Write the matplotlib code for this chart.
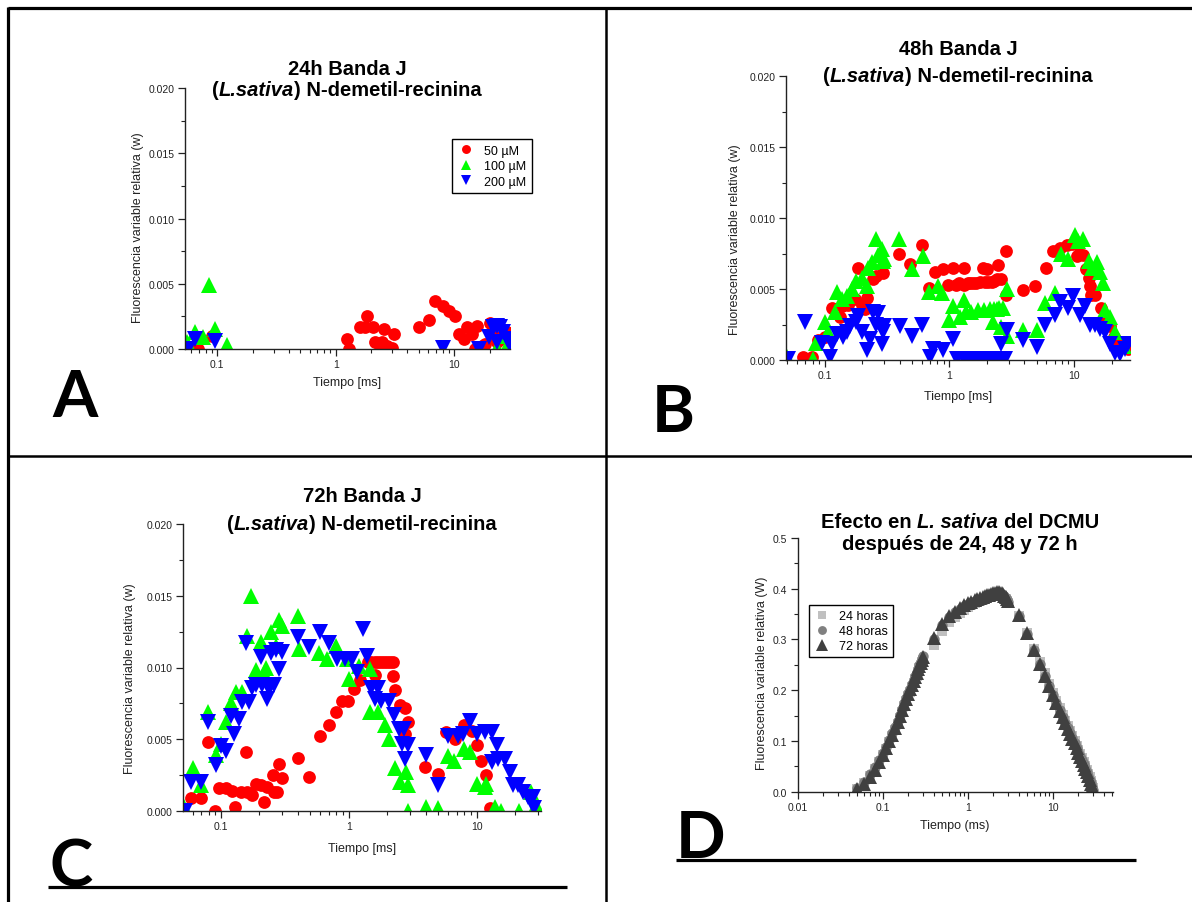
import matplotlib
matplotlib.use("Agg")
import matplotlib.pyplot as plt
import numpy as np
from matplotlib.ticker import LogLocator, NullFormatter, MultipleLocator, FormatStrFormatter
from matplotlib.transforms import IdentityTransform
from matplotlib.lines import Line2D

plt.rcParams['font.family'] = ['Liberation Sans', 'DejaVu Sans']

# ---------------- data (tiempo en ms, fluorescencia relativa) ----------------
# A: 24 h
a_red_t = [0.063, 0.069, 0.09, 1.24, 1.3, 1.6, 1.77, 1.83, 2.08, 2.13, 2.3, 2.46, 2.53,
           2.7, 2.97, 3.07, 5.0, 6.07, 6.9, 8.1, 9.1, 10.2, 10.9, 12.0, 12.8, 14.0,
           15.0, 15.5, 17.0, 18.2, 20.0, 21.5, 23.0, 25.0, 27.8]
a_red_w = [0.0, 0.0, 0.001, 0.00077, 0.0, 0.00166, 0.00166, 0.00256, 0.00166, 0.0005, 0.0004, 0.0005, 0.00153,
           0.00026, 0.0001, 0.00115, 0.00166, 0.0022, 0.0037, 0.0033, 0.0029, 0.0025, 0.00115, 0.00077, 0.00166, 0.00115,
           0.0, 0.0018, 0.00026, 0.0004, 0.002, 0.001, 0.0005, 0.00077, 0.0013]
a_green_t = [0.055, 0.065, 0.076, 0.085, 0.096, 0.12, 23.0, 27.0, 29.0]
a_green_w = [0.0005, 0.0013, 0.0009, 0.0049, 0.0015, 0.0003, 0.0001, 0.001, 0.0005]
a_blue_t = [0.057, 0.065, 0.096, 8.1, 16.0, 19.5, 21.0, 23.0, 23.0, 24.5, 26.0, 28.0, 29.5]
a_blue_w = [0.0, 0.0008, 0.0006, 0.0001, 0.0, 0.0009, 0.0017, 0.0018, 0.0005, 0.0017, 0.0013, 0.0008, 0.0003]

# B: 48 h
b_red_t = [0.0675, 0.079, 0.089, 0.1, 0.114,
           0.133, 0.137, 0.155, 0.175, 0.186,
           0.198, 0.21, 0.217, 0.246, 0.26,
           0.295, 0.398, 0.483, 0.6, 0.69,
           0.77, 0.89, 0.98, 1.07, 1.14,
           1.2, 1.3, 1.3, 1.4, 1.46,
           1.55, 1.65, 1.75, 1.87, 1.93,
           1.99, 2.05, 2.18, 2.3, 2.4,
           2.46, 2.6, 2.85, 2.85, 3.9,
           4.9, 6.0, 6.8, 7.7, 8.7,
           9.6, 10.5, 11.0, 11.9, 12.5,
           13.1, 13.4, 13.8, 14.6, 16.6,
           17.8, 19.5, 20.8, 22.7, 24.9,
           27.3]
b_red_w = [0.0002, 0.0002, 0.0014, 0.0016, 0.0037,
           0.003, 0.0038, 0.0039, 0.0043, 0.0065,
           0.0039, 0.0036, 0.0044, 0.0057, 0.0059,
           0.0061, 0.0075, 0.0068, 0.0081, 0.0051,
           0.0062, 0.0064, 0.0053, 0.0065, 0.0053,
           0.0054, 0.0065, 0.0053, 0.0054, 0.0054,
           0.0054, 0.0054, 0.0055, 0.0065, 0.0055,
           0.0064, 0.0055, 0.0055, 0.0056, 0.0057,
           0.0067, 0.0057, 0.0077, 0.0046, 0.0049,
           0.0052, 0.0065, 0.0077, 0.0079, 0.0081,
           0.0082, 0.0073, 0.0075, 0.0074, 0.0064,
           0.0058, 0.0052, 0.0046, 0.0046, 0.0037,
           0.0029, 0.0024, 0.0016, 0.0011, 0.0011,
           0.0008]
b_green_t = [0.0496, 0.081, 0.086, 0.1, 0.107,
             0.121, 0.125, 0.137, 0.15, 0.165,
             0.18, 0.198, 0.217, 0.224, 0.238,
             0.26, 0.27, 0.286, 0.295, 0.3,
             0.397, 0.5, 0.61, 0.69, 0.81,
             0.87, 1.0, 1.07, 1.22, 1.3,
             1.37, 1.5, 1.7, 1.9, 2.1,
             2.25, 2.3, 2.4, 2.5, 2.6,
             2.7, 2.9, 2.9, 3.9, 5.0,
             5.8, 7.0, 7.9, 8.9, 10.1,
             10.8, 11.9, 13.1, 13.9, 15.2,
             16.2, 17.2, 17.8, 19.5, 21.4,
             25.0]
b_green_w = [0.0002, 0.0001, 0.0012, 0.0027, 0.002,
             0.0034, 0.0048, 0.0043, 0.0045, 0.005,
             0.0056, 0.0058, 0.0052, 0.0065, 0.0069,
             0.0085, 0.0074, 0.0078, 0.007, 0.0071,
             0.0085, 0.0064, 0.0073, 0.0048, 0.0052,
             0.0047, 0.0028, 0.0038, 0.003, 0.0042,
             0.0034, 0.0034, 0.0035, 0.0035, 0.0036,
             0.0027, 0.0036, 0.0036, 0.0037, 0.0023,
             0.0037, 0.005, 0.0017, 0.0021, 0.0021,
             0.004, 0.0047, 0.0075, 0.0071, 0.0088,
             0.0084, 0.0085, 0.007, 0.0065, 0.0069,
             0.0062, 0.0054, 0.0035, 0.003, 0.002,
             0.001]
b_blue_t = [0.051, 0.069, 0.095, 0.11, 0.114,
            0.125, 0.141, 0.15, 0.16, 0.18,
            0.186, 0.198, 0.217, 0.23, 0.246,
            0.26, 0.27, 0.286, 0.295, 0.3,
            0.4, 0.5, 0.6, 0.7, 0.74,
            0.89, 1.07, 1.15, 1.3, 1.45,
            1.6, 1.8, 2.0, 2.2, 2.4,
            2.6, 2.6, 2.8, 2.9, 3.9,
            5.0, 5.8, 7.0, 7.7, 8.9,
            9.9, 11.2, 12.3, 13.4, 14.6,
            16.2, 17.8, 19.5, 21.4, 23.5,
            25.5, 27.3]
b_blue_w = [0.0001, 0.0027, 0.0012, 0.0002, 0.0011,
            0.0018, 0.0016, 0.002, 0.0024, 0.0027,
            0.0031, 0.002, 0.0007, 0.0015, 0.0034,
            0.0025, 0.0033, 0.0011, 0.002, 0.0024,
            0.0024, 0.0017, 0.0025, 0.0002, 0.0008,
            0.0007, 0.0015, 0.0001, 0.0001, 0.0001,
            0.0001, 0.0001, 0.0001, 0.0001, 0.0001,
            0.0001, 0.0011, 0.0001, 0.0021, 0.0014,
            0.0009, 0.0025, 0.0032, 0.0041, 0.0037,
            0.0045, 0.0032, 0.0038, 0.0025, 0.0025,
            0.0022, 0.002, 0.0011, 0.0005, 0.0004,
            0.0008, 0.0011]

# C: 72 h
c_red_t = [0.058, 0.07, 0.079, 0.089, 0.097,
           0.109, 0.123, 0.129, 0.143, 0.156,
           0.161, 0.176, 0.187, 0.205, 0.217,
           0.23, 0.253, 0.26, 0.276, 0.284,
           0.3, 0.4, 0.49, 0.6, 0.7,
           0.8, 0.88, 0.99, 1.09, 1.23,
           1.4, 1.5, 1.6, 1.6, 1.7,
           1.8, 1.9, 2.0, 2.1, 2.2,
           2.2, 2.3, 2.5, 2.75, 2.75,
           2.9, 3.96, 5.0, 5.8, 6.8,
           8.0, 9.2, 10.0, 10.9, 11.9,
           12.7]
c_red_w = [0.0009, 0.0009, 0.0048, 0.0, 0.0016,
           0.0016, 0.0014, 0.0003, 0.0013, 0.0041,
           0.0013, 0.0011, 0.0019, 0.0018, 0.0006,
           0.0017, 0.0025, 0.0013, 0.0013, 0.0033,
           0.0023, 0.0037, 0.0024, 0.0052, 0.006,
           0.0069, 0.0077, 0.0077, 0.0085, 0.0091,
           0.0104, 0.0104, 0.0104, 0.0095, 0.0104,
           0.0104, 0.0104, 0.0104, 0.0104, 0.0104,
           0.0094, 0.0084, 0.0074, 0.0072, 0.0054,
           0.0062, 0.0031, 0.0026, 0.0055, 0.005,
           0.006, 0.0056, 0.0046, 0.0035, 0.0025,
           0.0002]
c_green_t = [0.05, 0.06, 0.07, 0.079, 0.092,
             0.1, 0.109, 0.12, 0.131, 0.147,
             0.16, 0.171, 0.187, 0.205, 0.217,
             0.224, 0.245, 0.268, 0.284, 0.3,
             0.4, 0.41, 0.58, 0.68, 0.79,
             0.97, 1.0, 1.2, 1.47, 1.47,
             1.7, 1.93, 2.05, 2.3, 2.5,
             2.8, 2.9, 2.9, 4.0, 5.0,
             6.0, 6.7, 7.9, 8.9, 10.0,
             11.6, 11.9, 13.9, 15.6, 21.6,
             26.6, 29.0]
c_green_w = [0.0004, 0.003, 0.0018, 0.0069, 0.0039,
             0.0047, 0.0062, 0.0075, 0.0083, 0.0083,
             0.0122, 0.015, 0.0098, 0.0118, 0.0096,
             0.01, 0.0125, 0.0115, 0.0133, 0.0129,
             0.0136, 0.0113, 0.011, 0.0106, 0.0115,
             0.0106, 0.0092, 0.0101, 0.0099, 0.0069,
             0.0069, 0.006, 0.005, 0.003, 0.002,
             0.0027, 0.0018, 0.0, 0.0003, 0.0002,
             0.0038, 0.0035, 0.0043, 0.0041, 0.0019,
             0.0017, 0.0019, 0.0003, 0.0, 0.0,
             0.0013, 0.0004]
c_blue_t = [0.052, 0.058, 0.07, 0.079, 0.092,
            0.1, 0.109, 0.12, 0.127, 0.139,
            0.147, 0.156, 0.166, 0.176, 0.187,
            0.205, 0.211, 0.23, 0.238, 0.245,
            0.26, 0.268, 0.284, 0.3, 0.4,
            0.49, 0.6, 0.7, 0.81, 0.94,
            1.06, 1.16, 1.3, 1.39, 1.5,
            1.6, 1.7, 1.8, 2.05, 2.25,
            2.45, 2.6, 2.7, 2.75, 2.9,
            4.0, 5.0, 5.96, 7.2, 7.8,
            8.9, 10.0, 11.6, 13.1, 13.1,
            14.3, 14.6, 16.6, 18.2, 19.3,
            21.2, 23.2, 25.4, 27.6, 28.3]
c_blue_w = [0.0, 0.002, 0.002, 0.0062, 0.0032,
            0.0045, 0.0042, 0.0066, 0.0054, 0.0064,
            0.0076, 0.0117, 0.0076, 0.0086, 0.0088,
            0.0107, 0.0088, 0.0078, 0.0085, 0.011,
            0.0088, 0.0112, 0.0099, 0.0111, 0.0121,
            0.0114, 0.0125, 0.0117, 0.0106, 0.0106,
            0.0106, 0.0097, 0.0127, 0.0108, 0.0086,
            0.0078, 0.0086, 0.0077, 0.0077, 0.0067,
            0.0057, 0.0047, 0.0057, 0.0036, 0.0046,
            0.0039, 0.0018, 0.0052, 0.0052, 0.0054,
            0.0063, 0.0054, 0.0055, 0.0055, 0.0034,
            0.0046, 0.0036, 0.0036, 0.0027, 0.0018,
            0.0018, 0.0013, 0.001, 0.001, 0.0002]

# D: DCMU
d_t = [0.05, 0.06, 0.07, 0.08, 0.09, 0.10, 0.11, 0.12, 0.13, 0.14, 0.15, 0.16, 0.17,
       0.18, 0.19, 0.20, 0.21, 0.22, 0.23, 0.24, 0.25, 0.26, 0.27, 0.28, 0.29, 0.30,
       0.4, 0.5, 0.6, 0.7, 0.8, 0.9, 1.0,
       1.1, 1.2, 1.3, 1.4, 1.5, 1.6, 1.7, 1.8, 1.9, 2.0,
       2.1, 2.2, 2.3, 2.4, 2.5, 2.6, 2.7, 2.8, 2.9, 3.0,
       4, 5, 6, 7, 8, 9, 10, 11, 12, 13, 14, 15, 16, 17, 18, 19, 20,
       21, 22, 23, 24, 25, 26, 27, 28, 29, 30]
d_24h = [0.006, 0.018, 0.031, 0.045, 0.059, 0.072, 0.085, 0.097, 0.110, 0.122, 0.134, 0.146, 0.157,
         0.168, 0.178, 0.188, 0.197, 0.206, 0.214, 0.222, 0.229, 0.236, 0.243, 0.249, 0.255, 0.260,
         0.290, 0.316, 0.334, 0.345, 0.353, 0.359, 0.364,
         0.368, 0.371, 0.374, 0.376, 0.378, 0.380, 0.382, 0.384, 0.385, 0.386,
         0.387, 0.388, 0.388, 0.387, 0.386, 0.384, 0.382, 0.379, 0.376, 0.372,
         0.346, 0.313, 0.282, 0.256, 0.233, 0.213, 0.195, 0.179, 0.165, 0.152, 0.140, 0.129, 0.119,
         0.109, 0.100, 0.091, 0.082, 0.074, 0.066, 0.058, 0.050, 0.043, 0.035, 0.028, 0.021, 0.014, 0.007]
d_48h = [0.008, 0.020, 0.034, 0.048, 0.062, 0.076, 0.089, 0.102, 0.115, 0.128, 0.140, 0.152, 0.163,
         0.174, 0.184, 0.194, 0.203, 0.212, 0.220, 0.228, 0.235, 0.242, 0.249, 0.255, 0.261, 0.267,
         0.300, 0.328, 0.345, 0.354, 0.361, 0.366, 0.370,
         0.373, 0.376, 0.378, 0.380, 0.382, 0.384, 0.386, 0.388, 0.389, 0.390,
         0.391, 0.392, 0.392, 0.391, 0.390, 0.388, 0.385, 0.382, 0.378, 0.374,
         0.347, 0.311, 0.279, 0.252, 0.229, 0.209, 0.191, 0.175, 0.161, 0.148, 0.136, 0.125, 0.115,
         0.105, 0.096, 0.087, 0.078, 0.070, 0.062, 0.054, 0.046, 0.039, 0.031, 0.024, 0.017, 0.010, 0.004]
d_72h = [0.005, 0.016, 0.029, 0.043, 0.058, 0.072, 0.086, 0.099, 0.112, 0.125, 0.138, 0.150, 0.162,
         0.173, 0.183, 0.193, 0.202, 0.211, 0.219, 0.227, 0.234, 0.241, 0.248, 0.254, 0.260, 0.266,
         0.302, 0.330, 0.346, 0.355, 0.362, 0.367, 0.371,
         0.374, 0.377, 0.379, 0.381, 0.383, 0.385, 0.387, 0.388, 0.390, 0.391,
         0.392, 0.393, 0.393, 0.392, 0.391, 0.389, 0.386, 0.383, 0.379, 0.375,
         0.348, 0.312, 0.279, 0.252, 0.228, 0.208, 0.190, 0.174, 0.160, 0.147, 0.135, 0.124, 0.114,
         0.104, 0.095, 0.086, 0.077, 0.069, 0.061, 0.053, 0.045, 0.038, 0.030, 0.023, 0.016, 0.009, 0.003]

conc_labels = ["50 µM", "100 µM", "200 µM"]
hour_labels = ["24 horas", "48 horas", "72 horas"]

# ---------------- figure ----------------
W, H = 1192, 903
fig = plt.figure(figsize=(W / 100, H / 100), dpi=100)
renderer = fig.canvas.get_renderer()


def box(l, r, b, t):
    return [l / W, 1 - b / H, (r - l) / W, (b - t) / H]


def ftext(x, y, s, **kw):
    return fig.text(x / W, 1 - y / H, s, **kw)


def fline(x0, y0, x1, y1, lw):
    fig.add_artist(Line2D([x0 / W, x1 / W], [1 - y0 / H, 1 - y1 / H],
                          transform=fig.transFigure, color='black', lw=lw,
                          solid_capstyle='butt'))


def rich_line(xc, y, parts, size=14.5):
    # one title line with mixed normal / italic pieces, centred on xc (pixels)
    p1 = fig.text(0, 0, 'n n', fontsize=size, fontweight='bold')
    p2 = fig.text(0, 0, 'nn', fontsize=size, fontweight='bold')
    sp = p1.get_window_extent(renderer).width - p2.get_window_extent(renderer).width
    p1.remove()
    p2.remove()
    items = []
    for s, st in parts:
        lead = len(s) - len(s.lstrip(' '))
        trail = len(s) - len(s.rstrip(' '))
        t = fig.text(0, 0, s.strip(' '), fontsize=size, fontweight='bold', fontstyle=st,
                     transform=IdentityTransform(), ha='left', va='baseline')
        w = t.get_window_extent(renderer).width
        items.append((t, lead * sp, w, trail * sp))
    total = sum(a + w + c for _, a, w, c in items)
    x = xc - total / 2
    for t, a, w, c in items:
        x += a
        t.set_position((x, H - y))
        x += w + c


def make_axes(rect, xlim, ylim, ymajor, yfmt, xticks, xlabels):
    ax = fig.add_axes(box(*rect))
    ax.set_xscale('log')
    ax.set_xlim(xlim)
    ax.set_ylim(ylim)
    for s in ['top', 'right']:
        ax.spines[s].set_visible(False)
    for s in ['left', 'bottom']:
        ax.spines[s].set_linewidth(1.0)
        ax.spines[s].set_color('#222222')
    ax.set_xticks(xticks)
    ax.set_xticklabels(xlabels)
    ax.xaxis.set_minor_locator(LogLocator(base=10, subs=np.arange(2, 10)))
    ax.xaxis.set_minor_formatter(NullFormatter())
    ax.yaxis.set_major_locator(MultipleLocator(ymajor))
    ax.yaxis.set_minor_locator(MultipleLocator(ymajor / 2))
    ax.yaxis.set_major_formatter(FormatStrFormatter(yfmt))
    ax.tick_params(which='major', direction='out', length=5, width=0.9,
                   labelsize=7.5, colors='#222222', pad=2.5)
    ax.tick_params(which='minor', direction='out', length=3, width=0.8, colors='#222222')
    ax.patch.set_alpha(0)
    return ax


def scatter3(ax, red, green, blue):
    ax.plot(red[0], red[1], 'o', color='#FF0000', ms=9.2, mew=0, ls='none', label=conc_labels[0])
    ax.plot(green[0], green[1], '^', color='#00FF00', ms=11.3, mew=0, ls='none', label=conc_labels[1])
    ax.plot(blue[0], blue[1], 'v', color='#0000FF', ms=11.3, mew=0, ls='none', label=conc_labels[2])


ylab = "Fluorescencia variable relativa (w)"
xt = [0.1, 1, 10]
xtl = ["0.1", "1", "10"]

# --- A ---
axA = make_axes((185, 510, 350, 89.3), (0.0534, 29.5), (0, 0.020), 0.005, '%.3f', xt, xtl)
scatter3(axA, (a_red_t, a_red_w), (a_green_t, a_green_w), (a_blue_t, a_blue_w))
leg = axA.legend(loc='upper left', bbox_to_anchor=(452 / W, 1 - 140 / H),
                 bbox_transform=fig.transFigure, fontsize=9, frameon=True, fancybox=False,
                 edgecolor='black', framealpha=1, borderaxespad=0, borderpad=0.45,
                 handlelength=1.3, handletextpad=0.8, labelspacing=0.28, markerscale=0.7)
leg.get_frame().set_linewidth(1.0)
rich_line(347, 75, [("24h Banda J", 'normal')])
rich_line(347, 96, [("(", 'normal'), ("L.sativa", 'italic'), (") N-demetil-recinina", 'normal')])
ftext(347, 383, "Tiempo [ms]", fontsize=9, ha='center', va='center', color='#222222')
ftext(138, 228, ylab, fontsize=9, ha='center', va='center', rotation=90, color='#222222')

# --- B ---
axB = make_axes((786, 1130, 361, 77.3), (0.049, 28.1), (0, 0.020), 0.005, '%.3f', xt, xtl)
scatter3(axB, (b_red_t, b_red_w), (b_green_t, b_green_w), (b_blue_t, b_blue_w))
rich_line(958, 55, [("48h Banda J", 'normal')])
rich_line(958, 82, [("(", 'normal'), ("L.sativa", 'italic'), (") N-demetil-recinina", 'normal')])
ftext(958, 397, "Tiempo [ms]", fontsize=9, ha='center', va='center', color='#222222')
ftext(735, 240, ylab, fontsize=9, ha='center', va='center', rotation=90, color='#222222')

# --- C ---
axC = make_axes((183.3, 540.7, 812, 525), (0.0507, 31.7), (0, 0.020), 0.005, '%.3f', xt, xtl)
scatter3(axC, (c_red_t, c_red_w), (c_green_t, c_green_w), (c_blue_t, c_blue_w))
rich_line(362, 502, [("72h Banda J", 'normal')])
rich_line(362, 530, [("(", 'normal'), ("L.sativa", 'italic'), (") N-demetil-recinina", 'normal')])
ftext(362, 849, "Tiempo [ms]", fontsize=9, ha='center', va='center', color='#222222')
ftext(130, 679, ylab, fontsize=9, ha='center', va='center', rotation=90, color='#222222')

# --- D ---
axD = make_axes((797.7, 1113, 792.7, 539), (0.01, 51), (0, 0.5), 0.1, '%.1f',
                [0.01, 0.1, 1, 10], ["0.01", "0.1", "1", "10"])
axD.plot(d_t, d_24h, 's', color='#C0C0C0', ms=7, mew=0, ls='none', label=hour_labels[0])
axD.plot(d_t, d_48h, 'o', color='#808080', ms=7.5, mew=0, ls='none', label=hour_labels[1])
axD.plot(d_t, d_72h, '^', color='#404040', ms=10, mew=0, ls='none', label=hour_labels[2])
legD = axD.legend(loc='upper left', bbox_to_anchor=(809 / W, 1 - 606 / H),
                  bbox_transform=fig.transFigure, fontsize=9, frameon=True, fancybox=False,
                  edgecolor='black', framealpha=1, borderaxespad=0, borderpad=0.4,
                  handlelength=1.2, handletextpad=0.8, labelspacing=0.25, markerscale=0.85)
legD.get_frame().set_linewidth(1.0)
rich_line(960, 528, [("Efecto en ", 'normal'), ("L. sativa", 'italic'), (" del DCMU", 'normal')])
rich_line(960, 550, [("después de 24, 48 y 72 h", 'normal')])
ftext(955, 826, "Tiempo (ms)", fontsize=9, ha='center', va='center', color='#222222')
ftext(762, 673, "Fluorescencia variable relativa (W)", fontsize=9, ha='center', va='center',
      rotation=90, color='#222222')

# --- panel letters ---
for letter, x, y in [("A", 75, 417), ("B", 673, 432), ("C", 71, 887), ("D", 701, 858)]:
    ftext(x, y, letter, fontsize=47, fontweight='bold', family=['Lato', 'DejaVu Sans'],
          ha='center', va='baseline')

# --- frame lines ---
fline(8, 9, W, 9, 2.3)          # top
fline(8, 8, 8, H, 2.3)          # left
fline(606, 9, 606, H, 1.8)      # middle vertical
fline(8, 457, W, 457, 1.8)      # middle horizontal
fline(48, 888, 567, 888, 2.3)   # under C
fline(676, 861, 1136, 861, 2.3)  # under D

fig.savefig("out.png", dpi=100)
